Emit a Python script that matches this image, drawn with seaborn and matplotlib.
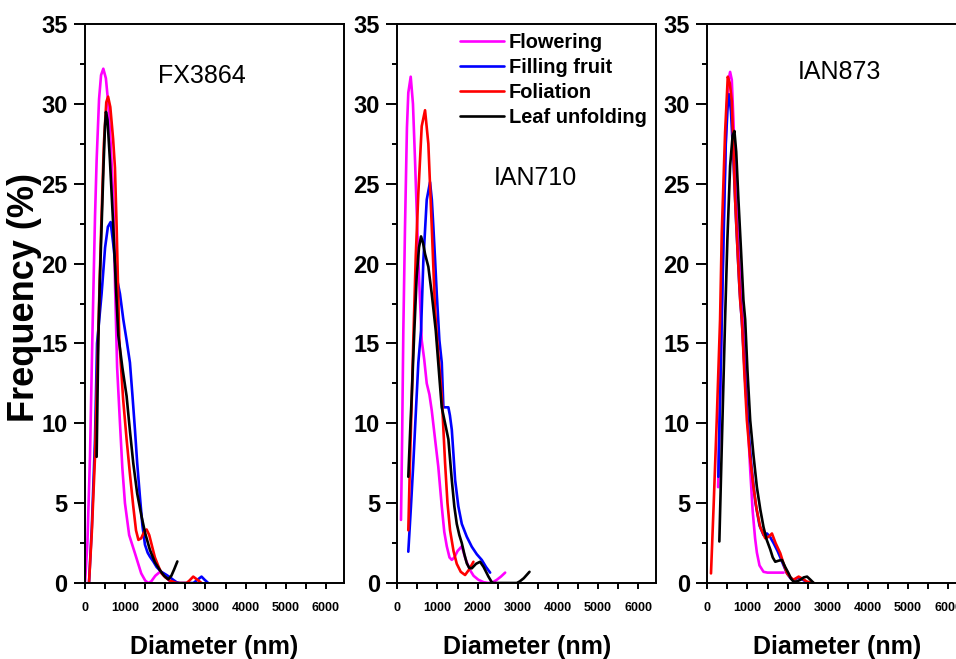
import numpy as np
import pandas as pd
import matplotlib
matplotlib.use("Agg")
import matplotlib.pyplot as plt
from matplotlib.ticker import MultipleLocator
import seaborn as sns

# ---------------- data ----------------
stages = ["Flowering", "Filling fruit", "Foliation", "Leaf unfolding"]
stage_colors = ["#FF00FF", "#0000FF", "#FF0000", "#000000"]
panel_names = ["FX3864", "IAN710", "IAN873"]

# FX3864
fx_flow_d = [0, 60, 124, 182, 207, 250, 290, 350, 400, 456, 520, 580, 640, 705, 750, 800, 871, 930, 995, 1100, 1244, 1400, 1500, 1575, 1650, 1750, 1866, 1950, 2050, 2114]
fx_flow_v = [0, 2.5, 7.9, 15.2, 18.1, 23, 26.5, 30.3, 31.8, 32.2, 31.6, 30.0, 27.5, 24.0, 18.5, 13.5, 10.0, 7.2, 5.0, 3.0, 1.86, 0.6, 0.15, 0, 0.1, 0.45, 0.7, 0.6, 0.3, 0.1]
fx_fill_d = [100, 170, 249, 300, 413, 500, 570, 638, 700, 746, 800, 871, 954, 1036, 1119, 1180, 1244, 1300, 1368, 1430, 1493, 1560, 1617, 1700, 1783, 1900, 2032, 2120, 2197, 2280, 2363, 2700, 2800, 2902, 2980, 3068]
fx_fill_v = [0, 3.5, 9, 15, 18.1, 21, 22.3, 22.6, 21.3, 20.2, 19, 18.1, 16.5, 15.2, 13.8, 11.8, 9.6, 7.5, 5.4, 3.6, 2.4, 1.9, 1.65, 1.35, 1.0, 0.7, 0.5, 0.35, 0.2, 0.05, 0, 0, 0.2, 0.4, 0.2, 0]
fx_foli_d = [100, 170, 249, 332, 400, 470, 530, 575, 630, 700, 746, 788, 854, 950, 1036, 1120, 1202, 1270, 1330, 1400, 1480, 1534, 1600, 1680, 1741, 1820, 1907, 2000, 2114, 2280, 2530, 2600, 2695, 2800, 2902]
fx_foli_v = [0, 3.2, 7.9, 15.8, 22, 27.5, 30.1, 30.45, 29.8, 27.8, 26.0, 22.3, 15.2, 11.5, 9.0, 6.8, 4.8, 3.3, 2.7, 2.8, 3.25, 3.35, 3.0, 2.2, 1.6, 1.1, 0.6, 0.35, 0.15, 0, 0, 0.15, 0.4, 0.2, 0]
fx_leaf_d = [290, 332, 370, 413, 460, 498, 522, 560, 620, 705, 770, 830, 930, 1036, 1120, 1202, 1300, 1410, 1500, 1617, 1740, 1866, 1970, 2073, 2150, 2220, 2300]
fx_leaf_v = [7.9, 15.2, 19, 22.3, 26, 28.6, 29.5, 29.0, 26.5, 22.3, 18.5, 15.5, 13.5, 11.7, 9.5, 7.5, 5.6, 4.15, 3.1, 2.07, 1.3, 0.8, 0.45, 0.23, 0.45, 0.85, 1.35]

# IAN710
i710_flow_d = [92, 120, 150, 192, 240, 274, 334, 390, 441, 524, 608, 670, 733, 800, 858, 950, 1020, 1107, 1170, 1232, 1300, 1357, 1420, 1500, 1606, 1700, 1813, 1900, 2020, 2150, 2269, 2380, 2478, 2580, 2686]
i710_flow_v = [3.95, 9, 15.8, 22.3, 28.5, 30.7, 31.7, 30, 26.5, 20.2, 15.2, 14, 12.5, 11.8, 10.8, 8.8, 7.3, 4.8, 3.2, 2.3, 1.6, 1.45, 1.6, 2.0, 2.3, 1.5, 0.8, 0.45, 0.2, 0.05, 0, 0.05, 0.2, 0.4, 0.65]
i710_fill_d = [274, 340, 399, 460, 524, 591, 649, 733, 815, 860, 898, 940, 983, 1048, 1107, 1148, 1210, 1272, 1310, 1357, 1400, 1440, 1520, 1606, 1730, 1855, 1980, 2105, 2210, 2312]
i710_fill_v = [1.96, 4.8, 7.5, 10.6, 13.8, 15.8, 20.2, 24.0, 25.1, 24.0, 22.3, 20.3, 18.1, 15.2, 13.8, 11.0, 11.0, 11.0, 10.5, 9.6, 8.0, 6.45, 4.8, 3.7, 2.9, 2.27, 1.8, 1.44, 1.0, 0.65]
i710_foli_d = [274, 320, 360, 399, 460, 524, 608, 691, 773, 858, 940, 983, 1050, 1107, 1190, 1250, 1314, 1400, 1481, 1580, 1688, 1790, 1896]
i710_foli_v = [3.3, 8, 11.5, 15.2, 20.5, 24.4, 28.6, 29.6, 27.5, 22.3, 17.1, 15.5, 13.5, 11.7, 7.5, 5.0, 3.3, 2.0, 1.2, 0.7, 0.5, 0.85, 1.33]
i710_leaf_d = [274, 320, 359, 424, 483, 540, 591, 640, 691, 773, 858, 958, 1050, 1107, 1190, 1272, 1357, 1420, 1481, 1545, 1606, 1670, 1731, 1790, 1855, 1960, 2062, 2150, 2270, 2353, 2400, 2977, 3050, 3150, 3292]
i710_leaf_v = [6.65, 9.5, 11.7, 15.8, 19.2, 21.0, 21.7, 21.3, 20.6, 19.8, 18.1, 15.8, 12.8, 11.0, 10.0, 9.0, 6.45, 4.8, 3.7, 3.0, 2.5, 1.8, 1.23, 0.95, 0.92, 1.2, 1.33, 1.0, 0.4, 0.05, 0, 0, 0.1, 0.3, 0.7]

# IAN873
i873_flow_d = [270, 320, 360, 420, 480, 530, 568, 610, 650, 730, 820, 900, 960, 1010, 1068, 1130, 1190, 1235, 1300, 1400, 1500, 1900]
i873_flow_v = [6, 12, 17, 24, 29.5, 31.5, 32.0, 31.5, 29, 23.5, 19, 16.0, 13, 10, 7.1, 4.5, 2.8, 1.9, 1.1, 0.7, 0.65, 0.65]
i873_fill_d = [275, 330, 400, 460, 510, 543, 590, 650, 720, 800, 870, 940, 1010, 1100, 1200, 1300, 1400, 1485, 1560, 1650, 1750, 1818, 1900, 1985, 2070, 2150, 2275, 2380, 2485, 2600]
i873_fill_v = [6.65, 13, 21, 27.5, 30.0, 30.6, 29.5, 26.5, 22.5, 18.5, 16.0, 12.8, 10.0, 7.3, 5.0, 3.6, 3.0, 3.1, 2.9, 2.5, 2.0, 1.6, 1.1, 0.6, 0.3, 0.2, 0.35, 0.2, 0.05, 0]
i873_foli_d = [92, 160, 235, 318, 360, 443, 510, 560, 610, 693, 760, 818, 860, 920, 985, 1060, 1150, 1230, 1318, 1443, 1530, 1610, 1700, 1818, 1900, 1985, 2070, 2150, 2210, 2275, 2380, 2485, 2650]
i873_foli_v = [0.6, 5, 10.2, 16.5, 21.9, 28.2, 31.7, 31.3, 30.2, 24.0, 20.5, 17.7, 16.5, 13.3, 10.2, 8, 6.0, 4.6, 3.5, 2.8, 2.9, 3.1, 2.5, 1.86, 1.2, 0.6, 0.35, 0.2, 0.3, 0.4, 0.25, 0.08, 0]
i873_leaf_d = [300, 370, 443, 500, 568, 630, 675, 720, 775, 840, 900, 943, 1000, 1068, 1150, 1235, 1320, 1400, 1480, 1568, 1630, 1693, 1780, 1860, 1940, 2025, 2090, 2150, 2230, 2318, 2400, 2485, 2570, 2650]
i873_leaf_v = [2.6, 9.5, 16.5, 21.5, 26.1, 28.0, 28.3, 27, 24.0, 20.8, 17.7, 16.5, 13.3, 10.2, 8.0, 6.0, 4.6, 3.5, 2.7, 2.1, 1.6, 1.33, 1.4, 1.44, 1.0, 0.6, 0.25, 0.08, 0.1, 0.2, 0.35, 0.4, 0.2, 0]

panel_series = [
    [(fx_flow_d, fx_flow_v), (fx_fill_d, fx_fill_v), (fx_foli_d, fx_foli_v), (fx_leaf_d, fx_leaf_v)],
    [(i710_flow_d, i710_flow_v), (i710_fill_d, i710_fill_v), (i710_foli_d, i710_foli_v), (i710_leaf_d, i710_leaf_v)],
    [(i873_flow_d, i873_flow_v), (i873_fill_d, i873_fill_v), (i873_foli_d, i873_foli_v), (i873_leaf_d, i873_leaf_v)],
]

# ---------------- styling ----------------
sns.set_style("ticks")
plt.rcParams["font.family"] = ["Liberation Sans", "DejaVu Sans"]
plt.rcParams["font.weight"] = "bold"
plt.rcParams["axes.labelweight"] = "bold"
plt.rcParams["text.color"] = "black"
plt.rcParams["axes.labelcolor"] = "black"
plt.rcParams["xtick.color"] = "black"
plt.rcParams["ytick.color"] = "black"

W, H = 956, 659
fig = plt.figure(figsize=(W / 100, H / 100), dpi=100)
fig.patch.set_facecolor("white")

ax_lefts = [85, 397.3, 707.3]
ax_width = 259
ax_top, ax_bottom = 24, 583
title_pos = [(0.45, 0.907), (0.532, 0.7245), (0.512, 0.914)]
palette = dict(zip(stages, stage_colors))

axes = []
for i, left in enumerate(ax_lefts):
    ax = fig.add_axes([left / W, 1 - ax_bottom / H, ax_width / W, (ax_bottom - ax_top) / H])
    axes.append(ax)
    rows = []
    for stage, (d, v) in zip(stages, panel_series[i]):
        rows.append(pd.DataFrame({"Diameter": d, "Frequency": v, "Stage": stage}))
    df = pd.concat(rows, ignore_index=True)
    sns.lineplot(data=df, x="Diameter", y="Frequency", hue="Stage", hue_order=stages,
                 palette=palette, estimator=None, sort=False, linewidth=1.9,
                 ax=ax, legend=(i == 1))
    ax.set_xlim(0, 6450)
    ax.set_ylim(0, 35)
    ax.xaxis.set_major_locator(MultipleLocator(1000))
    ax.xaxis.set_minor_locator(MultipleLocator(500))
    ax.yaxis.set_major_locator(MultipleLocator(5))
    ax.yaxis.set_minor_locator(MultipleLocator(2.5))
    for s in ax.spines.values():
        s.set_visible(True)
        s.set_linewidth(1.4)
        s.set_color("black")
    ax.tick_params(axis="y", which="major", direction="out", length=8, width=1.4,
                   labelsize=17, pad=4.5, colors="black")
    ax.tick_params(axis="y", which="minor", direction="out", length=3.6, width=1.4,
                   colors="black")
    ax.tick_params(axis="x", which="both", direction="out", length=4, width=1.4,
                   labelsize=9, pad=10, colors="black")
    ax.set_xlabel("Diameter (nm)", fontsize=18, fontweight="bold", labelpad=15,
                  color="black")
    ax.set_ylabel("")
    ax.text(title_pos[i][0], title_pos[i][1], panel_names[i], transform=ax.transAxes,
            ha="center", va="center", fontsize=18, fontweight="normal", color="black")
    ax.set_facecolor("white")

leg_ax = axes[1]
handles, labels = leg_ax.get_legend_handles_labels()
leg = leg_ax.legend(handles, labels, loc="upper left", bbox_to_anchor=(0.187, 1.009),
                    frameon=False, handlelength=2.2, handletextpad=0.25,
                    labelspacing=0.3, borderpad=0.2,
                    prop={"weight": "bold", "size": 14.4})
for t in leg.get_texts():
    t.set_color("black")

fig.text(25 / W, 1 - 298 / H, "Frequency (%)", rotation=90, ha="center", va="center",
         fontsize=26, fontweight="bold", color="black")

fig.savefig("out.png", dpi=100, facecolor="white")
